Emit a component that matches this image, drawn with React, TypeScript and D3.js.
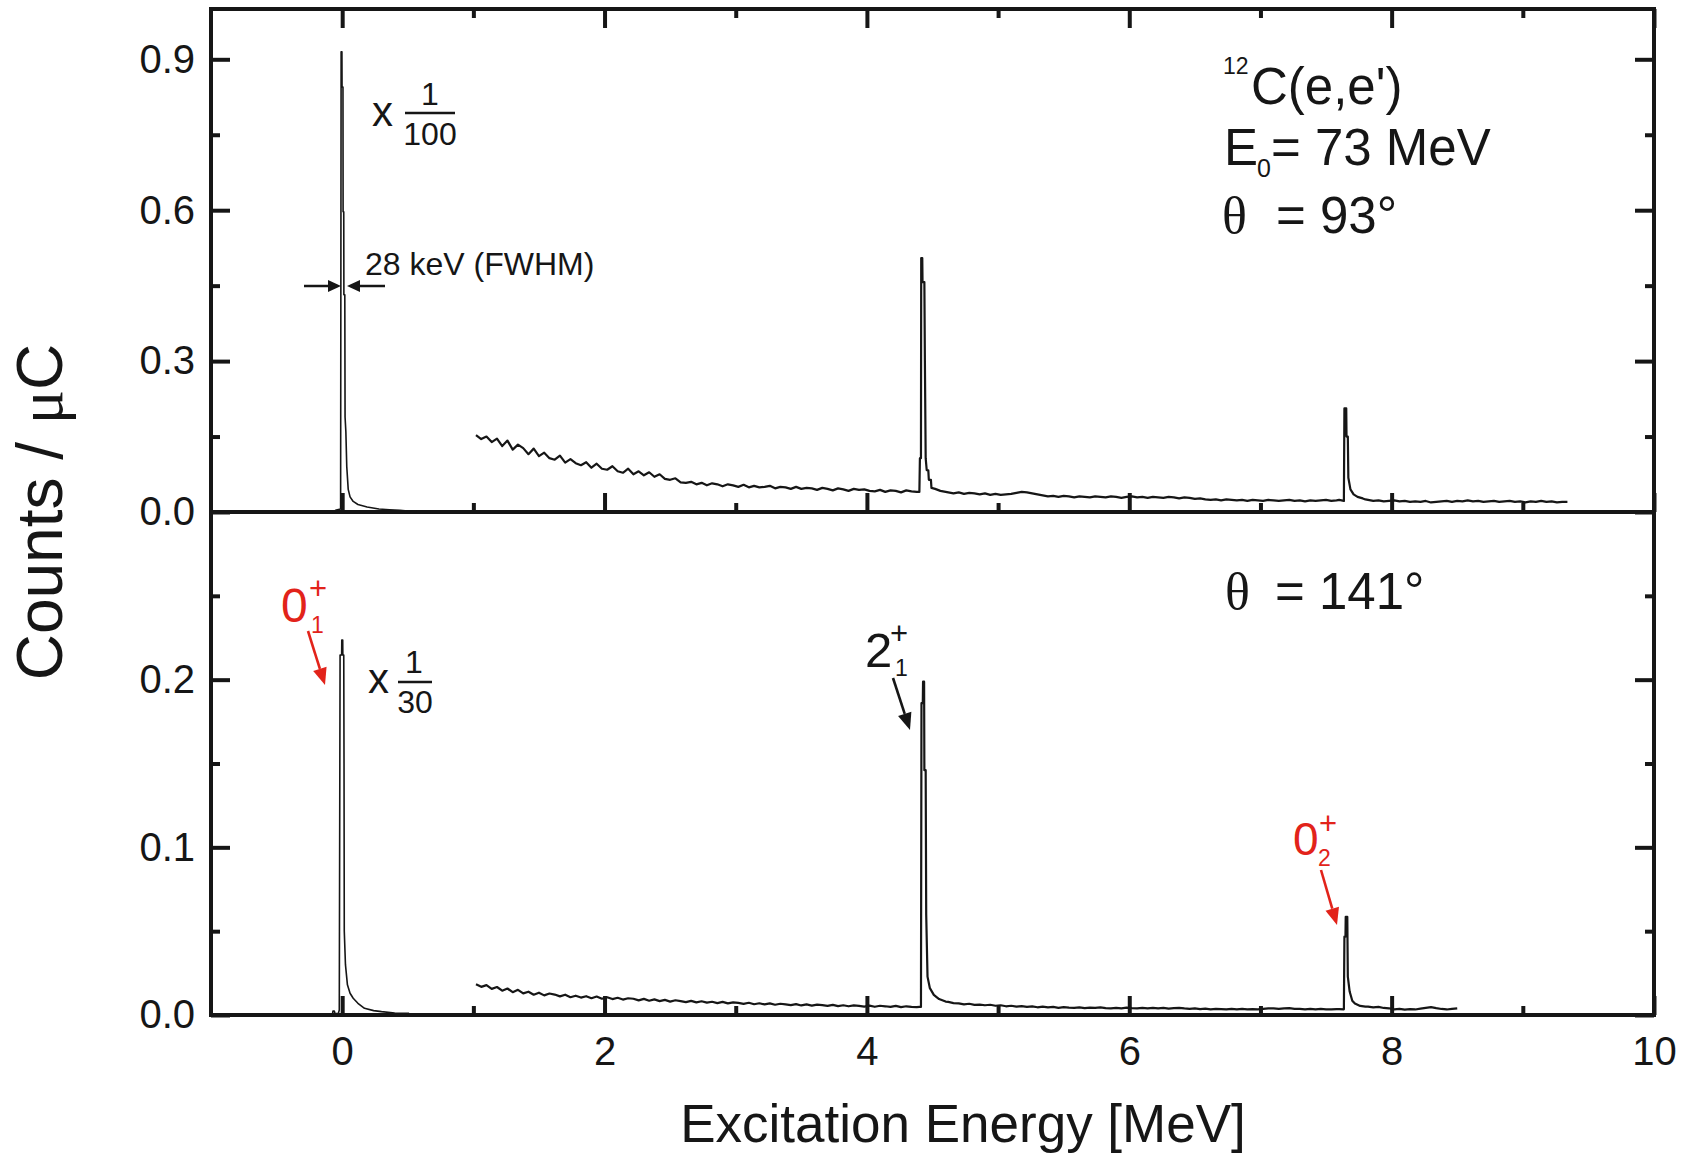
import React, { useEffect, useRef } from 'react';
import * as d3 from 'd3';

const WIDTH = 1688;
const HEIGHT = 1155;
const frame = { left: 211, right: 1654, top: 9, mid: 512, bottom: 1015 };
const INK = '#161616';
const RED = '#e2231a';
const SANS = '"Liberation Sans", Arial, Helvetica, sans-serif';
const SERIF = '"Liberation Serif", "Times New Roman", serif';

const BIN = 0.04; // MeV, width of the grouped background channels

// axis ticks
const xMajor = [0, 2, 4, 6, 8, 10];
const xMinor = [1, 3, 5, 7, 9];
const yTopMajor = [0, 0.3, 0.6, 0.9];
const yTopMinor = [0.15, 0.45, 0.75];
const yBotMajor = [0, 0.1, 0.2];
const yBotMinor = [0.05, 0.15, 0.25];

// ---------- theta = 93 deg (elastic peak shown x 1/100) ----------
const elastic93: [number, number][] = [
  [-0.07, 0.0], [-0.045, 0.004], [-0.012, 0.006], [-0.008, 0.915], [-0.002, 0.915],
  [-0.001, 0.845], [0.006, 0.845], [0.007, 0.597], [0.012, 0.597], [0.013, 0.432],
  [0.02, 0.432], [0.022, 0.189], [0.028, 0.16], [0.035, 0.09], [0.046, 0.045],
  [0.06, 0.03], [0.084, 0.021], [0.12, 0.015], [0.19, 0.010], [0.28, 0.006],
  [0.36, 0.0045], [0.44, 0.0034], [0.5, 0.002], [0.57, 0.0012]
];
const bg93a = [ // from 1.00 MeV
  0.153, 0.145, 0.150, 0.139, 0.146, 0.131, 0.142, 0.124, 0.134, 0.127,
  0.115, 0.126, 0.111, 0.118, 0.107, 0.104, 0.112, 0.098, 0.105, 0.097,
  0.093, 0.099, 0.088, 0.096, 0.086, 0.084, 0.091, 0.081, 0.078, 0.086,
  0.075, 0.081, 0.073, 0.079, 0.070, 0.075, 0.066, 0.064, 0.067, 0.059,
  0.058, 0.060, 0.055, 0.058, 0.053, 0.057, 0.055, 0.051, 0.055, 0.053,
  0.050, 0.054, 0.049, 0.052, 0.049, 0.050, 0.052, 0.047, 0.050, 0.049,
  0.046, 0.050, 0.046, 0.048, 0.047, 0.044, 0.048, 0.046, 0.043, 0.047,
  0.045, 0.042, 0.046, 0.044, 0.045, 0.042, 0.041, 0.044, 0.040, 0.043,
  0.042, 0.039, 0.043, 0.041, 0.040
];
const peak93b: [number, number][] = [ // 2+ state, 4.44 MeV
  [4.40, 0.040], [4.404, 0.107], [4.412, 0.107], [4.414, 0.505], [4.422, 0.505],
  [4.424, 0.457], [4.438, 0.457], [4.442, 0.30], [4.448, 0.107], [4.456, 0.083],
  [4.468, 0.083], [4.472, 0.064], [4.488, 0.064], [4.492, 0.048], [4.52, 0.046],
  [4.56, 0.042], [4.60, 0.040]
];
const bg93b = [ // from 4.60 MeV
  0.039, 0.037, 0.039, 0.036, 0.038, 0.037, 0.035, 0.037, 0.034, 0.036,
  0.034, 0.035, 0.036, 0.038, 0.040, 0.039, 0.037, 0.035, 0.033, 0.031,
  0.032, 0.030, 0.032, 0.031, 0.029, 0.031, 0.030, 0.029, 0.031, 0.030,
  0.029, 0.031, 0.030, 0.028, 0.030, 0.031, 0.029, 0.030, 0.028, 0.030,
  0.029, 0.028, 0.030, 0.029, 0.027, 0.029, 0.028, 0.026, 0.027, 0.025,
  0.024, 0.025, 0.023, 0.025, 0.024, 0.023, 0.024, 0.022, 0.024, 0.023,
  0.022, 0.024, 0.023, 0.022, 0.023, 0.024, 0.022, 0.023, 0.021, 0.023,
  0.022, 0.023, 0.024, 0.022, 0.023
];
const peak93c: [number, number][] = [ // Hoyle state, 7.65 MeV
  [7.60, 0.024], [7.636, 0.022], [7.640, 0.206], [7.654, 0.206], [7.656, 0.150],
  [7.666, 0.150], [7.670, 0.068], [7.686, 0.045], [7.71, 0.035], [7.74, 0.030],
  [7.78, 0.027], [7.80, 0.025]
];
const bg93c = [ // from 7.80 MeV
  0.024, 0.022, 0.023, 0.021, 0.022, 0.023, 0.021, 0.022, 0.020, 0.021,
  0.020, 0.022, 0.019, 0.020, 0.021, 0.022, 0.020, 0.022, 0.021, 0.023,
  0.021, 0.022, 0.020, 0.021, 0.022, 0.020, 0.021, 0.022, 0.020, 0.021,
  0.019, 0.021, 0.020, 0.022, 0.020, 0.021, 0.019, 0.020, 0.020
];

// ---------- theta = 141 deg (elastic peak shown x 1/30) ----------
const elastic141: [number, number][] = [
  [-0.09, 0.0], [-0.075, 0.0], [-0.07, 0.0024], [-0.06, 0.0024], [-0.055, 0.0008],
  [-0.03, 0.0008], [-0.022, 0.003], [-0.016, 0.2147], [-0.004, 0.2147], [-0.003, 0.2236],
  [0.004, 0.2236], [0.005, 0.2147], [0.012, 0.2147], [0.014, 0.153], [0.016, 0.05],
  [0.025, 0.030], [0.04, 0.018], [0.06, 0.013], [0.084, 0.010], [0.12, 0.007],
  [0.17, 0.004], [0.24, 0.0026], [0.3, 0.002], [0.4, 0.0012], [0.51, 0.001]
];
const bg141a = [ // from 1.00 MeV
  0.0183, 0.0168, 0.0178, 0.0156, 0.0167, 0.0145, 0.0158, 0.0136, 0.0150, 0.0129,
  0.0139, 0.0121, 0.0133, 0.0117, 0.0128, 0.0122, 0.0111, 0.0121, 0.0106, 0.0115,
  0.0104, 0.0112, 0.0100, 0.0110, 0.0097, 0.0106, 0.0095, 0.0103, 0.0092, 0.0100,
  0.0097, 0.0087, 0.0096, 0.0085, 0.0093, 0.0083, 0.0090, 0.0080, 0.0088, 0.0083,
  0.0077, 0.0084, 0.0075, 0.0082, 0.0074, 0.0079, 0.0071, 0.0078, 0.0069, 0.0075,
  0.0072, 0.0066, 0.0073, 0.0064, 0.0070, 0.0063, 0.0069, 0.0061, 0.0067, 0.0063,
  0.0059, 0.0065, 0.0057, 0.0063, 0.0056, 0.0062, 0.0059, 0.0054, 0.0060, 0.0053,
  0.0058, 0.0052, 0.0057, 0.0054, 0.0050, 0.0056, 0.0049, 0.0055, 0.0052, 0.0048,
  0.0054, 0.0047, 0.0052, 0.0049, 0.0047
];
const peak141b: [number, number][] = [ // 2+ state
  [4.40, 0.0048], [4.412, 0.0048], [4.416, 0.186], [4.426, 0.186], [4.428, 0.1988],
  [4.436, 0.1988], [4.438, 0.146], [4.448, 0.146], [4.452, 0.060], [4.462, 0.0229],
  [4.48, 0.016], [4.51, 0.012], [4.55, 0.0095], [4.60, 0.0080]
];
const bg141b = [ // from 4.60 MeV
  0.0078, 0.0071, 0.0069, 0.0063, 0.0067, 0.0060, 0.0062, 0.0058, 0.0061, 0.0055,
  0.0058, 0.0052, 0.0055, 0.0050, 0.0053, 0.0049, 0.0051, 0.0046, 0.0050, 0.0045,
  0.0048, 0.0043, 0.0047, 0.0044, 0.0042, 0.0045, 0.0041, 0.0044, 0.0042, 0.0045,
  0.0041, 0.0040, 0.0043, 0.0040, 0.0044, 0.0041, 0.0039, 0.0042, 0.0040, 0.0043,
  0.0039, 0.0042, 0.0038, 0.0041, 0.0043, 0.0039, 0.0037, 0.0040, 0.0035, 0.0038,
  0.0034, 0.0037, 0.0035, 0.0033, 0.0036, 0.0034, 0.0036, 0.0033, 0.0035, 0.0034,
  0.0036, 0.0039, 0.0040, 0.0037, 0.0040, 0.0041, 0.0037, 0.0036, 0.0034, 0.0037,
  0.0034, 0.0036, 0.0034, 0.0033, 0.0035
];
const peak141c: [number, number][] = [ // Hoyle state
  [7.60, 0.0035], [7.636, 0.0034], [7.640, 0.0467], [7.648, 0.0467], [7.650, 0.0586],
  [7.662, 0.0586], [7.666, 0.0229], [7.68, 0.014], [7.70, 0.0085], [7.72, 0.0068],
  [7.76, 0.0054], [7.80, 0.0050]
];
const bg141c = [ // from 7.80 MeV
  0.0050, 0.0045, 0.0048, 0.0042, 0.0040, 0.0034, 0.0037, 0.0032, 0.0035, 0.0033,
  0.0038, 0.0043, 0.0047, 0.0041, 0.0036, 0.0033, 0.0037, 0.0040
];

// grouped channels, one point at the centre of each BIN wide channel group
function channels(start: number, counts: number[]): [number, number][] {
  return counts.map((c, i) => [start + (i + 0.5) * BIN, c] as [number, number]);
}

const spectrum93 = [...channels(1.0, bg93a), ...peak93b, ...channels(4.6, bg93b), ...peak93c, ...channels(7.8, bg93c)];
const spectrum141 = [...channels(1.0, bg141a), ...peak141b, ...channels(4.6, bg141b), ...peak141c, ...channels(7.8, bg141c)];

function arrow(g: any, x1: number, y1: number, x2: number, y2: number, color: string, w: number, headLen: number, headHalf: number) {
  const len = Math.hypot(x2 - x1, y2 - y1);
  const ux = (x2 - x1) / len, uy = (y2 - y1) / len;
  const bx = x2 - ux * headLen, by = y2 - uy * headLen;
  g.append('line').attr('x1', x1).attr('y1', y1).attr('x2', bx).attr('y2', by)
    .attr('stroke', color).attr('stroke-width', w);
  g.append('path')
    .attr('d', `M${x2},${y2}L${bx - uy * headHalf},${by + ux * headHalf}L${bx + uy * headHalf},${by - ux * headHalf}Z`)
    .attr('fill', color);
}

function text(g: any, x: number, y: number, str: string, size: number, opts: any = {}) {
  return g.append('text').attr('x', x).attr('y', y).text(str)
    .attr('font-size', size)
    .attr('font-family', opts.family || SANS)
    .attr('fill', opts.fill || INK)
    .attr('text-anchor', opts.anchor || 'start');
}

export default function App() {
  const ref = useRef<SVGSVGElement>(null);

  useEffect(() => {
    const svg = d3.select(ref.current);
    svg.selectAll('*').remove();

    const x = d3.scaleLinear().domain([-1, 10]).range([frame.left, frame.right]);
    const yTop = d3.scaleLinear().domain([0, 1.0]).range([frame.mid, frame.top]);
    const yBot = d3.scaleLinear().domain([0, 0.3]).range([frame.bottom, frame.mid]);

    const styleAxis = (g: any, labels: boolean, fontSize: number) => {
      g.select('.domain').remove();
      g.attr('font-family', SANS).attr('font-size', fontSize);
      g.selectAll('line').attr('stroke', INK).attr('stroke-width', 4);
      if (labels) g.selectAll('text').attr('fill', INK);
    };

    const axes = svg.append('g');
    const MAJ = 19, MIN = 9;

    // bottom x axis with labels
    axes.append('g').attr('transform', `translate(0,${frame.bottom})`)
      .call(d3.axisBottom(x).tickValues(xMajor).tickSizeInner(-MAJ).tickSizeOuter(0).tickPadding(22).tickFormat(d3.format('d')))
      .call((g: any) => styleAxis(g, true, 40));
    axes.append('g').attr('transform', `translate(0,${frame.bottom})`)
      .call(d3.axisBottom(x).tickValues(xMinor).tickSizeInner(-MIN).tickSizeOuter(0).tickFormat(() => ''))
      .call((g: any) => styleAxis(g, false, 40));
    // shared middle axis (ticks belong to the upper panel) and top axis
    [[xMajor, MAJ], [xMinor, MIN]].forEach(([vals, len]: any) => {
      axes.append('g').attr('transform', `translate(0,${frame.mid})`)
        .call(d3.axisBottom(x).tickValues(vals).tickSizeInner(-len).tickSizeOuter(0).tickFormat(() => ''))
        .call((g: any) => styleAxis(g, false, 40));
      axes.append('g').attr('transform', `translate(0,${frame.top})`)
        .call(d3.axisTop(x).tickValues(vals).tickSizeInner(-len).tickSizeOuter(0).tickFormat(() => ''))
        .call((g: any) => styleAxis(g, false, 40));
    });

    // y axes
    const fmt = d3.format('.1f');
    const yAxes: any[] = [[yTop, yTopMajor, yTopMinor], [yBot, yBotMajor, yBotMinor]];
    yAxes.forEach(([scale, major, minor]) => {
      axes.append('g').attr('transform', `translate(${frame.left},0)`)
        .call(d3.axisLeft(scale).tickValues(major).tickSizeInner(-MAJ).tickSizeOuter(0).tickPadding(16).tickFormat(fmt as any))
        .call((g: any) => styleAxis(g, true, 40));
      axes.append('g').attr('transform', `translate(${frame.left},0)`)
        .call(d3.axisLeft(scale).tickValues(minor).tickSizeInner(-MIN).tickSizeOuter(0).tickFormat(() => ''))
        .call((g: any) => styleAxis(g, false, 40));
      axes.append('g').attr('transform', `translate(${frame.right},0)`)
        .call(d3.axisRight(scale).tickValues(major).tickSizeInner(-MAJ).tickSizeOuter(0).tickFormat(() => ''))
        .call((g: any) => styleAxis(g, false, 40));
      axes.append('g').attr('transform', `translate(${frame.right},0)`)
        .call(d3.axisRight(scale).tickValues(minor).tickSizeInner(-MIN).tickSizeOuter(0).tickFormat(() => ''))
        .call((g: any) => styleAxis(g, false, 40));
    });

    // frame
    axes.append('rect')
      .attr('x', frame.left).attr('y', frame.top)
      .attr('width', frame.right - frame.left).attr('height', frame.bottom - frame.top)
      .attr('fill', 'none').attr('stroke', INK).attr('stroke-width', 4);
    axes.append('line')
      .attr('x1', frame.left).attr('x2', frame.right).attr('y1', frame.mid).attr('y2', frame.mid)
      .attr('stroke', INK).attr('stroke-width', 4);

    // spectra
    const lineTop = d3.line<[number, number]>().x(d => x(d[0])).y(d => yTop(d[1]));
    const lineBot = d3.line<[number, number]>().x(d => x(d[0])).y(d => yBot(d[1]));
    const spectra = svg.append('g').attr('fill', 'none').attr('stroke', INK)
      .attr('stroke-width', 2.2).attr('stroke-linejoin', 'round');
    spectra.append('path').attr('d', lineTop(elastic93)).attr('stroke-width', 1.6);
    spectra.append('path').attr('d', lineTop(spectrum93));
    spectra.append('path').attr('d', lineBot(elastic141)).attr('stroke-width', 1.6);
    spectra.append('path').attr('d', lineBot(spectrum141));

    // annotations
    const ann = svg.append('g');
    // x 1/100
    text(ann, 372, 126, 'x', 42);
    text(ann, 430, 105, '1', 32, { anchor: 'middle' });
    ann.append('line').attr('x1', 405).attr('x2', 455).attr('y1', 113).attr('y2', 113).attr('stroke', INK).attr('stroke-width', 2.5);
    text(ann, 430, 145, '100', 32, { anchor: 'middle' });
    // FWHM
    text(ann, 365, 275, '28 keV (FWHM)', 32);
    arrow(ann, 304, 286, 341, 286, INK, 2.5, 13, 6);
    arrow(ann, 385, 286, 347, 286, INK, 2.5, 13, 6);

    // reaction info
    text(ann, 1223, 74, '12', 23);
    text(ann, 1251, 104, "C(e,e')", 51);
    text(ann, 1224, 165, 'E', 51);
    text(ann, 1257, 177, '0', 25);
    text(ann, 1271, 165, '= 73 MeV', 51);
    text(ann, 1222, 233, '\u03b8', 52, { family: SERIF });
    text(ann, 1276, 233, '= 93\u00b0', 51);
    text(ann, 1225, 609, '\u03b8', 52, { family: SERIF });
    text(ann, 1275, 609, '= 141\u00b0', 51);

    // x 1/30
    text(ann, 368, 693, 'x', 42);
    text(ann, 414, 673, '1', 32, { anchor: 'middle' });
    ann.append('line').attr('x1', 398).attr('x2', 432).attr('y1', 682).attr('y2', 682).attr('stroke', INK).attr('stroke-width', 2.5);
    text(ann, 415, 713, '30', 32, { anchor: 'middle' });

    // state labels
    text(ann, 281, 622, '0', 48, { fill: RED });
    text(ann, 309, 599, '+', 31, { fill: RED });
    text(ann, 311, 633, '1', 23, { fill: RED });
    arrow(ann, 308, 631, 325, 685, RED, 2.6, 17, 7);

    text(ann, 865, 667, '2', 49);
    text(ann, 890, 644, '+', 31);
    text(ann, 895, 676, '1', 23);
    arrow(ann, 893, 678, 910, 730, INK, 2.6, 17, 7);

    text(ann, 1293, 855, '0', 46, { fill: RED });
    text(ann, 1319, 834, '+', 31, { fill: RED });
    text(ann, 1318, 866, '2', 23, { fill: RED });
    arrow(ann, 1321, 870, 1337, 925, RED, 2.6, 17, 7);

    // axis titles
    text(ann, 963, 1142, 'Excitation Energy [MeV]', 53, { anchor: 'middle' });
    const yt = ann.append('text')
      .attr('transform', 'translate(62,512) rotate(-90)')
      .attr('text-anchor', 'middle')
      .attr('font-family', SANS).attr('font-size', 64).attr('fill', INK);
    yt.append('tspan').text('Counts / ');
    yt.append('tspan').attr('font-family', SERIF).text('\u03bc');
    yt.append('tspan').text('C');
  }, []);

  return (
    <svg ref={ref} width={WIDTH} height={HEIGHT}
      style={{ position: 'absolute', left: 0, top: 0, background: '#fff' }} />
  );
}
